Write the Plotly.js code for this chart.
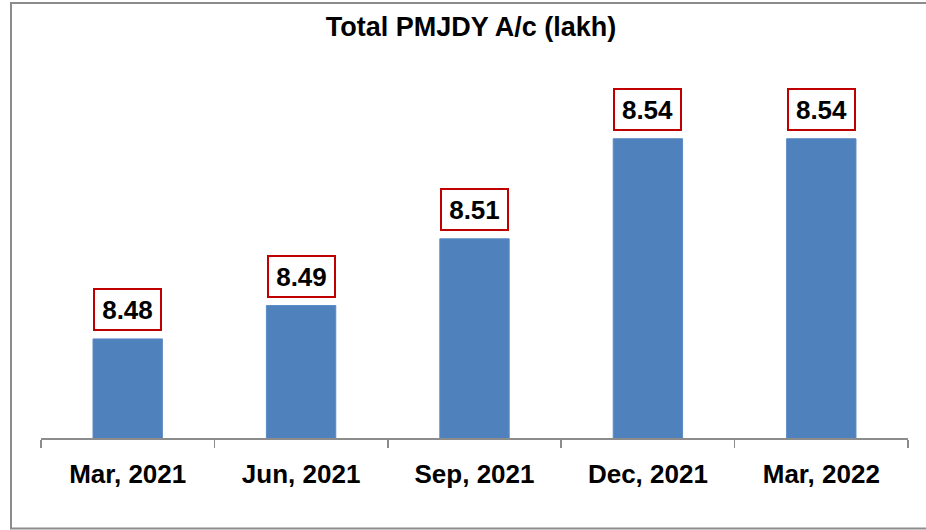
<!DOCTYPE html>
<html>
<head>
<meta charset="utf-8">
<script src="https://cdn.plot.ly/plotly-3.0.1.min.js"></script>
<style>
  html, body { margin: 0; padding: 0; background: #ffffff; }
  #chart { width: 926px; height: 530px; }
</style>
</head>
<body>
<div id="chart"></div>
<script>
// Total PMJDY accounts, in lakh, by quarter end
const quarters = ["Mar, 2021", "Jun, 2021", "Sep, 2021", "Dec, 2021", "Mar, 2022"];
const accounts = [8.48, 8.49, 8.51, 8.54, 8.54];
const valueLabels = ["8.48", "8.49", "8.51", "8.54", "8.54"];

const W = 926, H = 530;
const plotLeft = 41, plotRight = 908, plotTop = 72, plotBottom = 438;
const FONT = "Liberation Sans, Arial, sans-serif";

// pixel -> paper helpers for the outer frame
const px2x = p => (p - plotLeft) / (plotRight - plotLeft);
const px2y = p => (plotBottom - p) / (plotBottom - plotTop);

const trace = {
  type: "bar",
  x: quarters,
  y: accounts,
  marker: { color: "#4F81BD", line: { color: "#5B8AC4", width: 1 } },
  hoverinfo: "x+y"
};

const annotations = quarters.map((q, i) => ({
  x: q,
  y: accounts[i],
  xref: "x",
  yref: "y",
  text: "<b>" + valueLabels[i] + "</b>",
  showarrow: false,
  yanchor: "bottom",
  yshift: 8,
  width: 63,
  height: 37,
  bgcolor: "#ffffff",
  bordercolor: "#C00000",
  borderwidth: 2,
  borderpad: 1,
  font: { family: FONT, size: 26, color: "#000000" }
}));

const layout = {
  width: W,
  height: H,
  margin: { l: plotLeft, r: W - plotRight, t: plotTop, b: H - plotBottom, pad: 0 },
  paper_bgcolor: "#ffffff",
  plot_bgcolor: "#ffffff",
  showlegend: false,
  bargap: 0.6,
  title: {
    text: "<b>Total PMJDY A/c (lakh)</b>",
    font: { family: FONT, size: 27, color: "#000000" },
    xref: "paper",
    x: px2x(471),
    xanchor: "center",
    yref: "container",
    y: 1 - 27 / H,
    yanchor: "middle"
  },
  xaxis: {
    type: "category",
    showline: true,
    linecolor: "#8C8C8C",
    linewidth: 1.5,
    ticks: "outside",
    tickson: "boundaries",
    ticklen: 8,
    tickwidth: 1.5,
    tickcolor: "#8C8C8C",
    showgrid: false,
    zeroline: false,
    tickfont: { family: FONT, size: 26, color: "#000000", weight: "bold" },
    ticklabelstandoff: 12,
    fixedrange: true
  },
  yaxis: {
    range: [8.4503, 8.56],
    visible: false,
    showgrid: false,
    zeroline: false,
    fixedrange: true
  },
  annotations: annotations,
  shapes: [{
    type: "rect",
    xref: "paper",
    yref: "paper",
    x0: px2x(11), x1: px2x(940),
    y0: px2y(528.5), y1: px2y(3),
    line: { color: "#8C8C8C", width: 2 },
    fillcolor: "rgba(0,0,0,0)",
    layer: "below"
  }]
};

Plotly.newPlot("chart", [trace], layout, { displayModeBar: false, staticPlot: true });
</script>
</body>
</html>
